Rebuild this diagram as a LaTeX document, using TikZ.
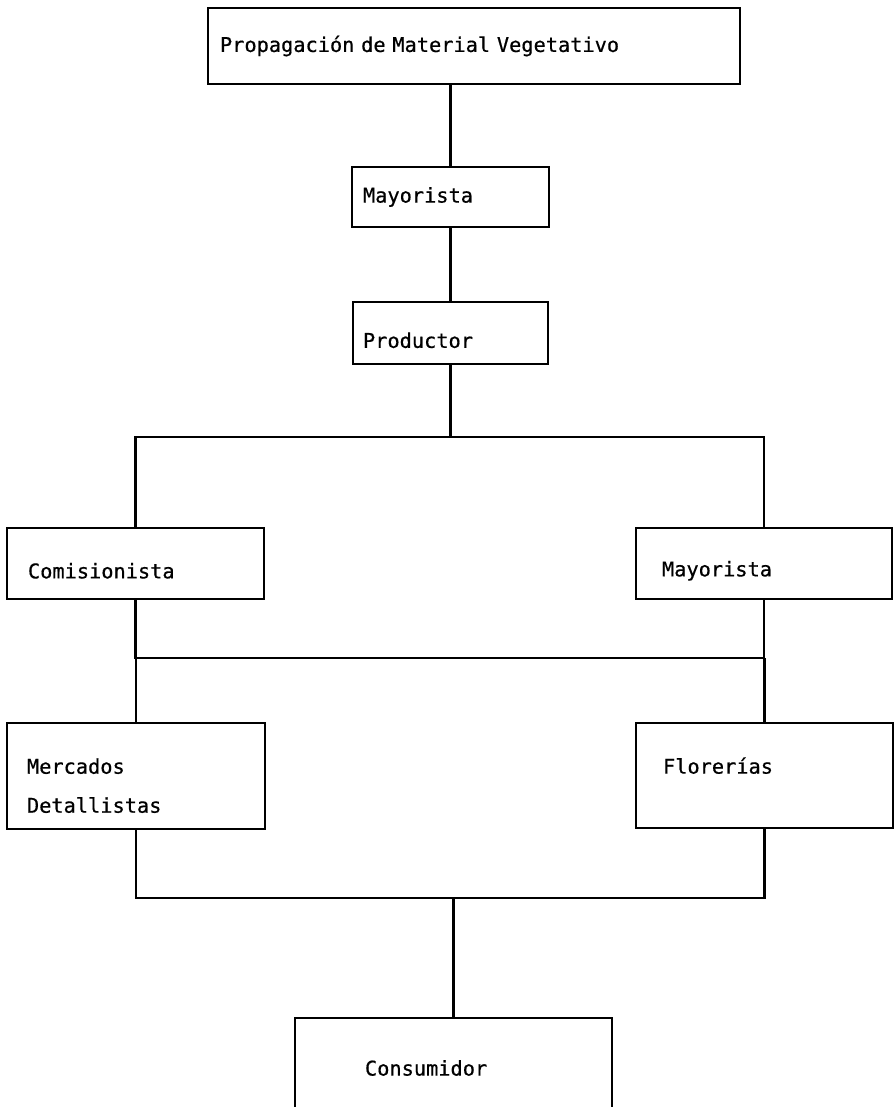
\documentclass[tikz,border=0pt]{standalone}
\usepackage{fontspec}
\setmonofont[FakeBold=0.6]{DejaVu Sans Mono}
\usepackage{tikz}

\begin{document}
\begin{tikzpicture}[x=1pt, y=-1pt, line width=2.5pt,
    caja/.style={draw, anchor=north west, outer sep=0pt, align=left,
        font=\ttfamily\fontsize{20.3}{39}\selectfont}]
    \useasboundingbox (0,0) rectangle (894,1107);
    \clip (0,0) rectangle (894,1107);

    % cajas
    \node[caja, minimum width=532pt, minimum height=76pt, inner xsep=12pt, text width=508pt] (prop) at (208,8) {Propagación de Material Vegetativo};
    \node[caja, minimum width=197pt, minimum height=60pt, inner xsep=11pt, text width=175pt] (mayA) at (352,167) {Mayorista};
    \node[caja, minimum width=195pt, minimum height=62pt, inner xsep=10pt, text width=175pt, text height=30pt] (prod) at (353,302) {Productor};
    \node[caja, minimum width=257pt, minimum height=71pt, inner xsep=21pt, text width=215pt, text height=30pt] (com) at (7,528) {Comisionista};
    \node[caja, minimum width=256pt, minimum height=71pt, inner xsep=26pt, text width=204pt, text height=30pt] (mayB) at (636,528) {Mayorista};
    \node[caja, minimum width=258pt, minimum height=106pt, inner xsep=20pt, text width=218pt, text depth=20pt] (merc) at (7,723) {Mercados\\Detallistas};
    \node[caja, minimum width=257pt, minimum height=105pt, inner xsep=27pt, text width=203pt, text depth=20pt] (flor) at (636,723) {Florerías};
    \node[caja, minimum width=317pt, minimum height=100pt, inner xsep=70pt, text width=177pt] (cons) at (295,1018) {Consumidor};

    % uniones
    \coordinate (b1) at (prod.south |- 0,437);
    \coordinate (b2) at (com.south |- 0,658);
    \coordinate (b3) at (cons.north |- 0,898);

    \draw (prop.south -| mayA.north) -- (mayA.north);
    \draw (mayA.south) -- (prod.north);
    \draw (prod.south) -- (b1);
    \draw (com.north) |- (mayB.north |- b1) -- (mayB.north); % primer nivel
    \draw (com.south) |- (mayB.south |- b2) -- (mayB.south); % segundo nivel
    \draw (merc.north) -- (merc.north |- b2);
    \draw (flor.north) -- (flor.north |- b2);
    \draw (merc.south) |- (flor.south |- b3) -- (flor.south); % tercer nivel
    \draw (b3) -- (cons.north);
\end{tikzpicture}
\end{document}
